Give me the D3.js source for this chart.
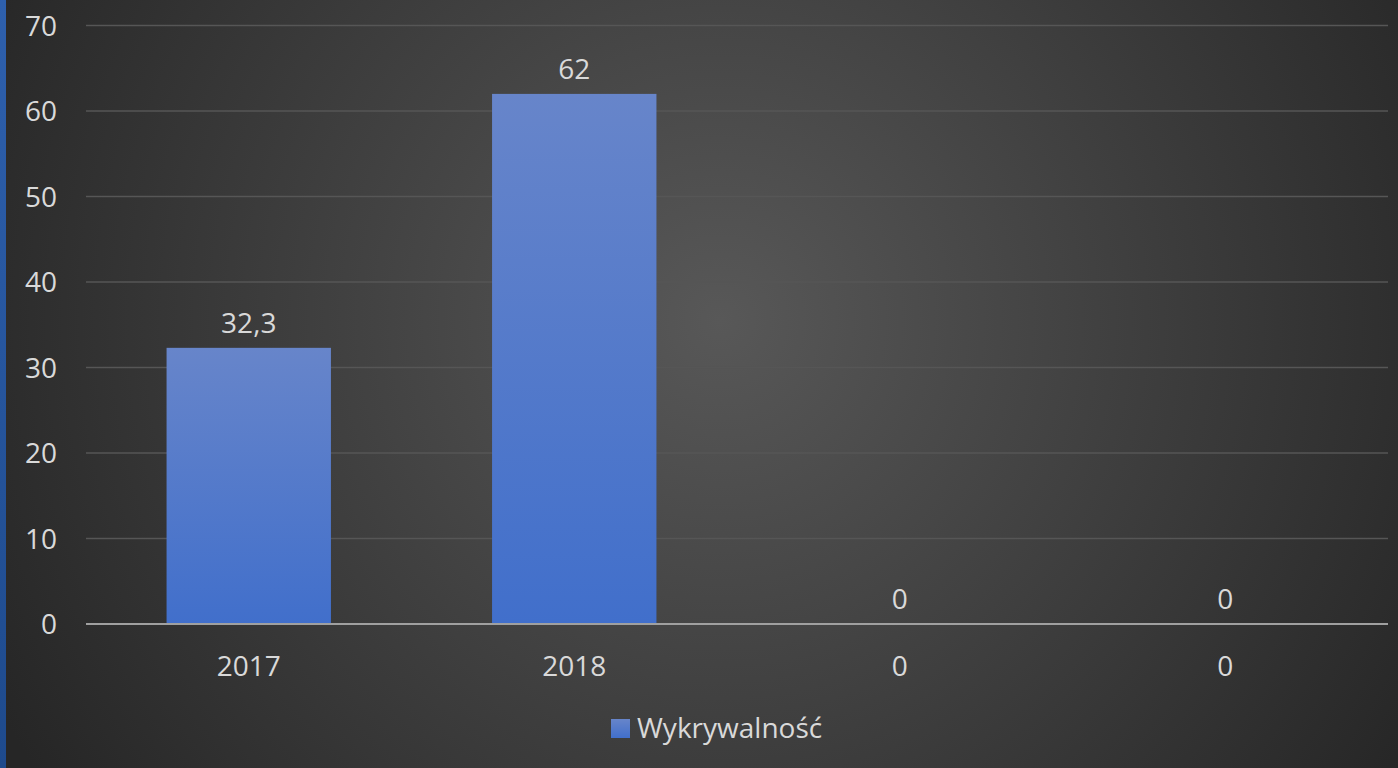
<!DOCTYPE html>
<html><head><meta charset="utf-8">
<script src="https://cdn.jsdelivr.net/npm/d3@7"></script>
<style>html,body{margin:0;padding:0;background:#2a2a2a;overflow:hidden}</style>
</head><body>
<script>
const categories = ["2017", "2018", "0", "0"];
const values = [32.3, 62, 0, 0];
const valueLabels = ["32,3", "62", "0", "0"];
const yTicks = [0, 10, 20, 30, 40, 50, 60, 70];
const seriesName = "Wykrywalność";

const W = 1398, H = 768;
const svg = d3.select("body").append("svg").attr("width", W).attr("height", H);
const defs = svg.append("defs");
const bg = defs.append("radialGradient").attr("id", "bg")
  .attr("gradientUnits", "userSpaceOnUse").attr("cx", 720).attr("cy", 320).attr("r", 820);
bg.append("stop").attr("offset", "0%").attr("stop-color", "#585858");
bg.append("stop").attr("offset", "100%").attr("stop-color", "#262626");
const barGrad = defs.append("linearGradient").attr("id", "bar").attr("x1", 0).attr("y1", 0).attr("x2", 0).attr("y2", 1);
barGrad.append("stop").attr("offset", "0%").attr("stop-color", "#6785ca");
barGrad.append("stop").attr("offset", "100%").attr("stop-color", "#416fcb");
const strip = defs.append("linearGradient").attr("id", "strip").attr("x1", 0).attr("y1", 0).attr("x2", 0).attr("y2", 1);
strip.append("stop").attr("offset", "0%").attr("stop-color", "#2e60ad");
strip.append("stop").attr("offset", "100%").attr("stop-color", "#1e4a8c");

svg.append("rect").attr("width", W).attr("height", H).attr("fill", "url(#bg)");
svg.append("rect").attr("x", 0).attr("y", 0).attr("width", 6).attr("height", H).attr("fill", "url(#strip)");

const pLeft = 86, pRight = 1388, pTop = 25.5, pBottom = 624;
const x = d3.scaleBand().domain(d3.range(categories.length)).range([pLeft, pRight]).paddingInner(0.495).paddingOuter(0.2475);
const y = d3.scaleLinear().domain([0, 70]).range([pBottom, pTop]);
const font = "'Open Sans', sans-serif";
const txt = "#d9d9d9";
const fs = "28px";

// gridlines
svg.append("g").selectAll("line").data(yTicks.filter(d => d > 0)).join("line")
  .attr("x1", pLeft).attr("x2", pRight).attr("y1", d => y(d)).attr("y2", d => y(d))
  .attr("stroke", "#565656").attr("stroke-width", 1.5);

// y axis labels
const yAxis = d3.axisLeft(y).tickValues(yTicks).tickSize(0).tickPadding(0);
const gy = svg.append("g").attr("transform", "translate(57,0)").call(yAxis);
gy.select(".domain").remove();
gy.selectAll("text").attr("fill", txt).style("font-family", font).style("font-size", fs).attr("dy", "0.35em");

// bars
svg.append("g").selectAll("rect").data(values).join("rect")
  .attr("x", (d, i) => x(i)).attr("width", x.bandwidth())
  .attr("y", d => y(d)).attr("height", d => pBottom - y(d))
  .attr("fill", "url(#bar)");

// baseline
svg.append("line").attr("x1", pLeft).attr("x2", pRight).attr("y1", pBottom).attr("y2", pBottom)
  .attr("stroke", "#a0a0a0").attr("stroke-width", 2);

// value labels
svg.append("g").selectAll("text").data(values).join("text")
  .attr("x", (d, i) => x(i) + x.bandwidth() / 2).attr("y", d => y(d) - 15)
  .attr("text-anchor", "middle").attr("fill", txt)
  .style("font-family", font).style("font-size", fs)
  .text((d, i) => valueLabels[i]);

// x axis labels
const xAxis = d3.axisBottom(x).tickFormat(i => categories[i]).tickSize(0).tickPadding(0);
const gx = svg.append("g").attr("transform", `translate(0,${pBottom})`).call(xAxis);
gx.select(".domain").remove();
gx.selectAll("text").attr("fill", txt).style("font-family", font).style("font-size", fs)
  .attr("y", 52).attr("dy", 0);

// legend
const lg = svg.append("g");
lg.append("rect").attr("x", 611).attr("y", 719).attr("width", 19).attr("height", 19).attr("fill", "url(#bar)");
lg.append("text").attr("x", 637).attr("y", 738).attr("fill", txt)
  .style("font-family", font).style("font-size", fs).text(seriesName);
</script>
</body></html>
